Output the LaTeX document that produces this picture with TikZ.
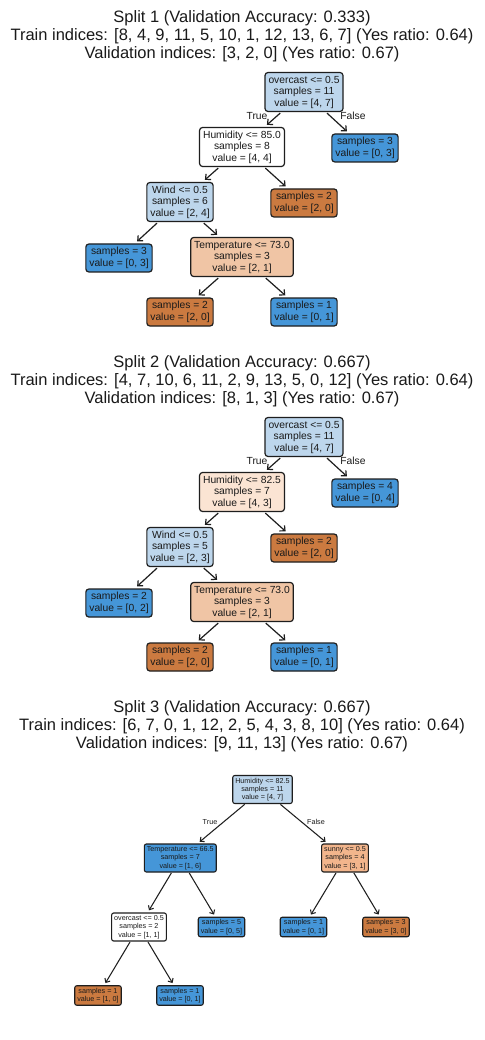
\documentclass[tikz,border=0pt]{standalone}
\usepackage{fontspec}
\setmainfont{Liberation Sans}
\usetikzlibrary{arrows.meta}
\definecolor{txt}{HTML}{1A1A1A}
\definecolor{edgecol}{HTML}{1E1E1E}
\definecolor{lblue}{HTML}{BDD6EC}
\definecolor{dblue}{HTML}{4596D8}
\definecolor{dorange}{HTML}{CB7A40}
\definecolor{lorange}{HTML}{F0C5A5}
\definecolor{vlorange}{HTML}{FBE4D3}
\definecolor{morange}{HTML}{F2B58C}
\tikzset{
  ttl/.style={anchor=base, inner sep=0pt, text=txt, font=\fontsize{16.5}{17.8}\selectfont},
  tnode/.style={draw=edgecol, line width=1.2pt, rounded corners=3pt, align=center,
    inner xsep=3.5pt, inner ysep=0pt, text=txt, font=\fontsize{10.3}{11.5}\selectfont},
  three/.style={minimum height=39pt},
  two/.style={minimum height=28pt},
  snode/.style={draw=edgecol, line width=1.1pt, rounded corners=2pt, align=center,
    inner xsep=2.5pt, inner ysep=0pt, text=txt, font=\fontsize{7.2}{8.3}\selectfont},
  sthree/.style={minimum height=28pt},
  stwo/.style={minimum height=19.5pt},
  tedge/.style={draw=edgecol, line width=1.2pt, -{Straight Barb[length=4pt,width=7.5pt]}, shorten <=1.5pt, shorten >=3pt},
  sedge/.style={draw=edgecol, line width=1.05pt, -{Straight Barb[length=3.3pt,width=6pt]}, shorten <=0.5pt, shorten >=2.5pt},
  blab/.style={inner sep=0pt, text=txt, font=\fontsize{10.3}{11.5}\selectfont},
  slab/.style={inner sep=0pt, text=txt, font=\fontsize{7.2}{8.3}\selectfont},
}
\begin{document}
\begin{tikzpicture}[x=1pt,y=-1pt]
\useasboundingbox[fill=white] (0,0) rectangle (484,1040);

% ---------------- Split 1 ----------------
\node[ttl] (s1a) at (242,22.5) {Split 1 (Validation Accuracy: 0.333)};
\node[ttl] (s1b) at (242,40.3) {Train indices: [8, 4, 9, 11, 5, 10, 1, 12, 13, 6, 7] (Yes ratio: 0.64)};
\node[ttl] (s1c) at (242,58.1) {Validation indices: [3, 2, 0] (Yes ratio: 0.67)};

\node[tnode,three,fill=lblue] (a0) at (304,92) {overcast <= 0.5\\samples = 11\\value = [4, 7]};
\node[tnode,three,fill=white] (a1) at (242,147) {Humidity <= 85.0\\samples = 8\\value = [4, 4]};
\node[tnode,two,fill=dblue] (a2) at (365,148) {samples = 3\\value = [0, 3]};
\node[tnode,three,fill=lblue] (a3) at (180,202) {Wind <= 0.5\\samples = 6\\value = [2, 4]};
\node[tnode,two,fill=dorange] (a4) at (304,203) {samples = 2\\value = [2, 0]};
\node[tnode,two,fill=dblue] (a5) at (119,258) {samples = 3\\value = [0, 3]};
\node[tnode,three,fill=lorange] (a6) at (242,257) {Temperature <= 73.0\\samples = 3\\value = [2, 1]};
\node[tnode,two,fill=dorange] (a7) at (180,312) {samples = 2\\value = [2, 0]};
\node[tnode,two,fill=dblue] (a8) at (304,312) {samples = 1\\value = [0, 1]};
\draw[tedge] (a0) -- (a1);
\draw[tedge] (a0) -- (a2);
\draw[tedge] (a1) -- (a3);
\draw[tedge] (a1) -- (a4);
\draw[tedge] (a3) -- (a5);
\draw[tedge] (a3) -- (a6);
\draw[tedge] (a6) -- (a7);
\draw[tedge] (a6) -- (a8);
\node[blab] (aT) at (257,116) {True};
\node[blab] (aF) at (353,116) {False};

% ---------------- Split 2 ----------------
\node[ttl] (s2a) at (242,367.5) {Split 2 (Validation Accuracy: 0.667)};
\node[ttl] (s2b) at (242,385.3) {Train indices: [4, 7, 10, 6, 11, 2, 9, 13, 5, 0, 12] (Yes ratio: 0.64)};
\node[ttl] (s2c) at (242,403.1) {Validation indices: [8, 1, 3] (Yes ratio: 0.67)};

\node[tnode,three,fill=lblue] (b0) at (304,437) {overcast <= 0.5\\samples = 11\\value = [4, 7]};
\node[tnode,three,fill=vlorange] (b1) at (242,492) {Humidity <= 82.5\\samples = 7\\value = [4, 3]};
\node[tnode,two,fill=dblue] (b2) at (365,493) {samples = 4\\value = [0, 4]};
\node[tnode,three,fill=lblue] (b3) at (180,547) {Wind <= 0.5\\samples = 5\\value = [2, 3]};
\node[tnode,two,fill=dorange] (b4) at (304,548) {samples = 2\\value = [2, 0]};
\node[tnode,two,fill=dblue] (b5) at (119,603) {samples = 2\\value = [0, 2]};
\node[tnode,three,fill=lorange] (b6) at (242,602) {Temperature <= 73.0\\samples = 3\\value = [2, 1]};
\node[tnode,two,fill=dorange] (b7) at (180,657) {samples = 2\\value = [2, 0]};
\node[tnode,two,fill=dblue] (b8) at (304,657) {samples = 1\\value = [0, 1]};
\draw[tedge] (b0) -- (b1);
\draw[tedge] (b0) -- (b2);
\draw[tedge] (b1) -- (b3);
\draw[tedge] (b1) -- (b4);
\draw[tedge] (b3) -- (b5);
\draw[tedge] (b3) -- (b6);
\draw[tedge] (b6) -- (b7);
\draw[tedge] (b6) -- (b8);
\node[blab] (bT) at (257,461) {True};
\node[blab] (bF) at (353,461) {False};

% ---------------- Split 3 ----------------
\node[ttl] (s3a) at (242,712.5) {Split 3 (Validation Accuracy: 0.667)};
\node[ttl] (s3b) at (242,730.3) {Train indices: [6, 7, 0, 1, 12, 2, 5, 4, 3, 8, 10] (Yes ratio: 0.64)};
\node[ttl] (s3c) at (242,748.1) {Validation indices: [9, 11, 13] (Yes ratio: 0.67)};

\node[snode,sthree,fill=lblue] (c0) at (262.5,789.5) {Humidity <= 82.5\\samples = 11\\value = [4, 7]};
\node[snode,sthree,fill=dblue] (c1) at (180.3,858) {Temperature <= 66.5\\samples = 7\\value = [1, 6]};
\node[snode,sthree,fill=morange] (c2) at (345,858) {sunny <= 0.5\\samples = 4\\value = [3, 1]};
\node[snode,sthree,fill=white] (c3) at (139,927) {overcast <= 0.5\\samples = 2\\value = [1, 1]};
\node[snode,stwo,fill=dblue] (c4) at (221.5,927) {samples = 5\\value = [0, 5]};
\node[snode,stwo,fill=dblue] (c5) at (303.5,927) {samples = 1\\value = [0, 1]};
\node[snode,stwo,fill=dorange] (c6) at (386,927) {samples = 3\\value = [3, 0]};
\node[snode,stwo,fill=dorange] (c7) at (98,995.5) {samples = 1\\value = [1, 0]};
\node[snode,stwo,fill=dblue] (c8) at (180,995.5) {samples = 1\\value = [0, 1]};
\draw[sedge] (c0) -- (c1);
\draw[sedge] (c0) -- (c2);
\draw[sedge] (c1) -- (c3);
\draw[sedge] (c1) -- (c4);
\draw[sedge] (c2) -- (c5);
\draw[sedge] (c2) -- (c6);
\draw[sedge] (c3) -- (c7);
\draw[sedge] (c3) -- (c8);
\node[slab] (cT) at (210,821.7) {True};
\node[slab] (cF) at (316,821.7) {False};
\end{tikzpicture}
\end{document}
